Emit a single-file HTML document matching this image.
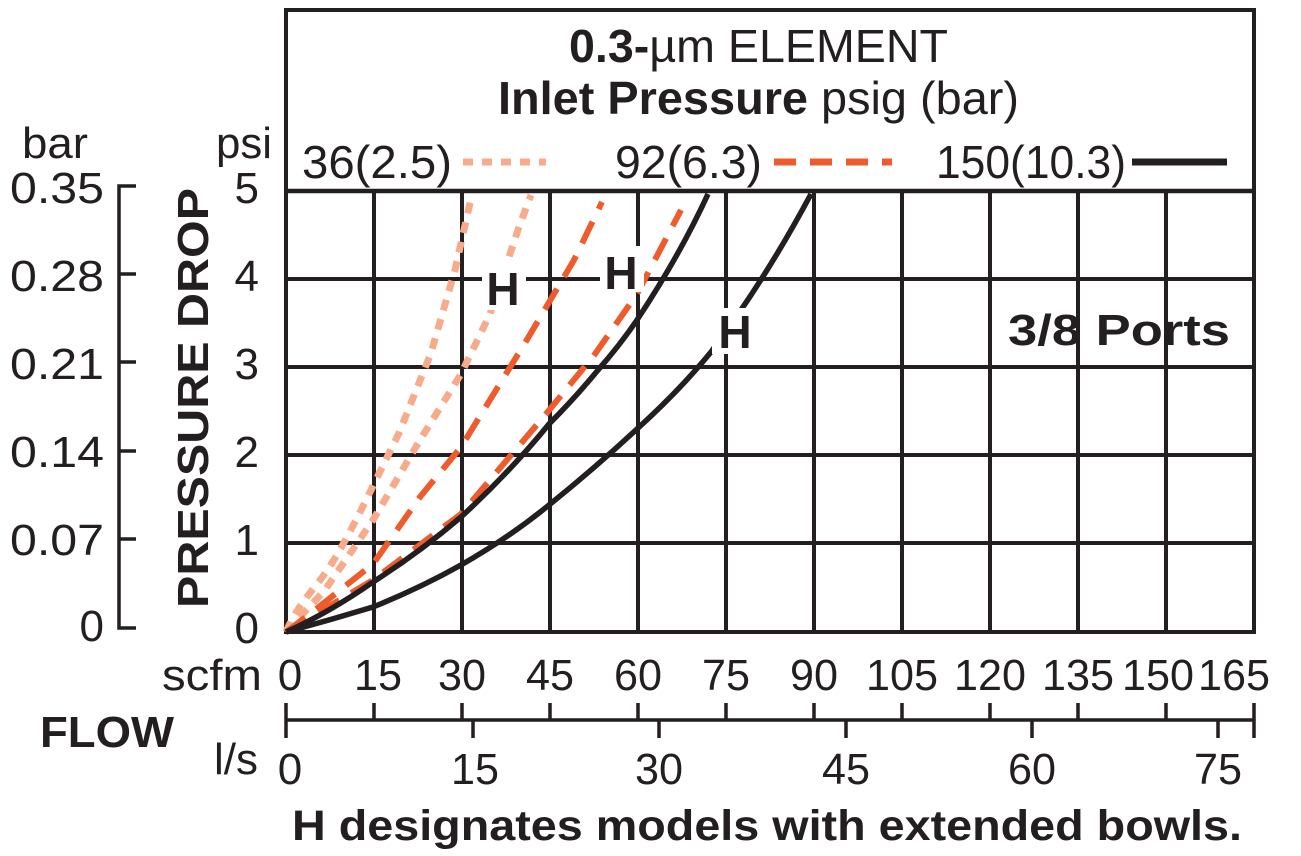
<!DOCTYPE html>
<html><head><meta charset="utf-8"><style>
html,body{margin:0;padding:0;background:#fff}
svg{display:block;font-family:"Liberation Sans",sans-serif;fill:#231f20}
</style></head><body>
<svg width="1301" height="856" viewBox="0 0 1301 856" xmlns="http://www.w3.org/2000/svg">
<g stroke="#231f20" stroke-width="4" fill="none">
<rect x="286" y="10" width="968" height="622"/>
<line x1="286" y1="191" x2="1254" y2="191" stroke-width="4.5"/>
<line x1="286" y1="279" x2="1254" y2="279"/>
<line x1="286" y1="367" x2="1254" y2="367"/>
<line x1="286" y1="455" x2="1254" y2="455"/>
<line x1="286" y1="543" x2="1254" y2="543"/>
<line x1="374" y1="191" x2="374" y2="632"/>
<line x1="462" y1="191" x2="462" y2="632"/>
<line x1="550" y1="191" x2="550" y2="632"/>
<line x1="638" y1="191" x2="638" y2="632"/>
<line x1="726" y1="191" x2="726" y2="632"/>
<line x1="814" y1="191" x2="814" y2="632"/>
<line x1="902" y1="191" x2="902" y2="632"/>
<line x1="990" y1="191" x2="990" y2="632"/>
<line x1="1078" y1="191" x2="1078" y2="632"/>
<line x1="1166" y1="191" x2="1166" y2="632"/>
<polyline points="136,186 119,186 119,628 136,628" stroke-width="3.5"/>
<g stroke-width="3.5">
<line x1="119" y1="274" x2="136" y2="274"/>
<line x1="119" y1="362" x2="136" y2="362"/>
<line x1="119" y1="451" x2="136" y2="451"/>
<line x1="119" y1="539" x2="136" y2="539"/>
<line x1="286" y1="720" x2="1254" y2="720"/>
<path d="M286 703V738M374 703V720M462 703V720M550 703V720M638 703V720M726 703V720M814 703V720M902 703V720M990 703V720M1078 703V720M1166 703V720M1254 703V738M473 720V738M659 720V738M846 720V738M1032 720V738M1218 720V738"/>
</g>
</g>
<g fill="none" stroke-linecap="butt">
<path d="M286,632 C300,600 315,590 332,563 S371,490 371,490 L399,433 L431,353 L455,270 L472,194" stroke="#f8ab8b" stroke-width="7" stroke-dasharray="11 9"/>
<path d="M286,632 L325,590 L373,520 L420,440 L461,374 L490,314 L519,227 L531,195" stroke="#f8ab8b" stroke-width="7" stroke-dasharray="11 9"/>
<path d="M286,632 L315,610 L373,564 L420,497 L461,447 L525,343 L574,260 L602,202" stroke="#ee5b2d" stroke-width="6" stroke-dasharray="24 14"/>
<path d="M286,632 L373,580 L461,514 L546,414 L595,354 L637,294 L681,210" stroke="#ee5b2d" stroke-width="6" stroke-dasharray="24 14"/>
<path d="M286,632 Q330,612 373,582 Q420,552 461,517 Q510,472 549,424 Q575,398 598,370 Q620,345 637,320 Q680,255 708,194" stroke="#231f20" stroke-width="5.5"/>
<path d="M286,632 Q330,620 373,607 Q420,588 461,565 Q510,537 549,505 Q595,468 637,429 Q680,390 711,352 Q765,280 811,194" stroke="#231f20" stroke-width="5.5"/>
</g>
<g font-weight="bold" font-size="46" text-anchor="middle">
<rect x="482" y="264" width="44" height="46" fill="#fff"/>
<text x="503" y="305">H</text>
<rect x="600" y="246" width="44" height="46" fill="#fff"/>
<text x="621" y="289">H</text>
<rect x="712" y="308" width="46" height="46" fill="#fff"/>
<text x="735" y="348">H</text>
</g>
<text x="1230" y="345" font-size="44" font-weight="bold" text-anchor="end" textLength="222" lengthAdjust="spacingAndGlyphs">3/8 Ports</text>
<text x="569" y="62" font-size="46" textLength="379" lengthAdjust="spacingAndGlyphs"><tspan font-weight="bold">0.3-</tspan>µm ELEMENT</text>
<text x="498" y="114" font-size="46" textLength="521" lengthAdjust="spacingAndGlyphs"><tspan font-weight="bold">Inlet Pressure</tspan> psig (bar)</text>
<g font-size="46">
<text x="302" y="178" textLength="150" lengthAdjust="spacingAndGlyphs">36(2.5)</text>
<text x="615" y="178" textLength="147" lengthAdjust="spacingAndGlyphs">92(6.3)</text>
<text x="936" y="178" textLength="190" lengthAdjust="spacingAndGlyphs">150(10.3)</text>
</g>
<line x1="463" y1="162" x2="546" y2="162" stroke="#f8ab8b" stroke-width="7" stroke-dasharray="10 9"/>
<line x1="774" y1="162" x2="892" y2="162" stroke="#ee5b2d" stroke-width="7" stroke-dasharray="22 14"/>
<line x1="1132" y1="162" x2="1227" y2="162" stroke="#231f20" stroke-width="7"/>
<g font-size="44">
<text x="22" y="158" textLength="66" lengthAdjust="spacingAndGlyphs">bar</text>
<text x="216" y="158" textLength="56" lengthAdjust="spacingAndGlyphs">psi</text>
<g text-anchor="end">
<text x="104" y="203" textLength="94" lengthAdjust="spacingAndGlyphs">0.35</text>
<text x="104" y="291" textLength="94" lengthAdjust="spacingAndGlyphs">0.28</text>
<text x="104" y="379" textLength="94" lengthAdjust="spacingAndGlyphs">0.21</text>
<text x="104" y="467" textLength="94" lengthAdjust="spacingAndGlyphs">0.14</text>
<text x="104" y="555" textLength="94" lengthAdjust="spacingAndGlyphs">0.07</text>
<text x="104" y="641">0</text>
<text x="259" y="203">5</text>
<text x="259" y="291">4</text>
<text x="259" y="379">3</text>
<text x="259" y="467">2</text>
<text x="259" y="555">1</text>
<text x="259" y="643">0</text>
</g>
</g>
<text transform="translate(208,398) rotate(-90)" font-size="44" font-weight="bold" text-anchor="middle" textLength="420" lengthAdjust="spacingAndGlyphs">PRESSURE DROP</text>
<g font-size="44" text-anchor="middle">
<text x="212" y="690" textLength="100" lengthAdjust="spacingAndGlyphs">scfm</text>
<text x="290" y="690">0</text>
<text x="378" y="690" textLength="48" lengthAdjust="spacingAndGlyphs">15</text>
<text x="462" y="690" textLength="48" lengthAdjust="spacingAndGlyphs">30</text>
<text x="550" y="690" textLength="48" lengthAdjust="spacingAndGlyphs">45</text>
<text x="638" y="690" textLength="48" lengthAdjust="spacingAndGlyphs">60</text>
<text x="726" y="690" textLength="48" lengthAdjust="spacingAndGlyphs">75</text>
<text x="814" y="690" textLength="48" lengthAdjust="spacingAndGlyphs">90</text>
<text x="902" y="690" textLength="72" lengthAdjust="spacingAndGlyphs">105</text>
<text x="990" y="690" textLength="72" lengthAdjust="spacingAndGlyphs">120</text>
<text x="1078" y="690" textLength="72" lengthAdjust="spacingAndGlyphs">135</text>
<text x="1158" y="690" textLength="72" lengthAdjust="spacingAndGlyphs">150</text>
<text x="1234" y="690" textLength="72" lengthAdjust="spacingAndGlyphs">165</text>
<text x="236" y="774" textLength="44" lengthAdjust="spacingAndGlyphs">l/s</text>
<text x="290" y="784">0</text>
<text x="475" y="784" textLength="48" lengthAdjust="spacingAndGlyphs">15</text>
<text x="659" y="784" textLength="48" lengthAdjust="spacingAndGlyphs">30</text>
<text x="846" y="784" textLength="48" lengthAdjust="spacingAndGlyphs">45</text>
<text x="1032" y="784" textLength="48" lengthAdjust="spacingAndGlyphs">60</text>
<text x="1218" y="784" textLength="48" lengthAdjust="spacingAndGlyphs">75</text>
</g>
<text x="40" y="747" font-size="44" font-weight="bold" textLength="134" lengthAdjust="spacingAndGlyphs">FLOW</text>
<text x="292" y="840" font-size="43" font-weight="bold" textLength="950" lengthAdjust="spacingAndGlyphs">H designates models with extended bowls.</text>
</svg>
</body></html>
